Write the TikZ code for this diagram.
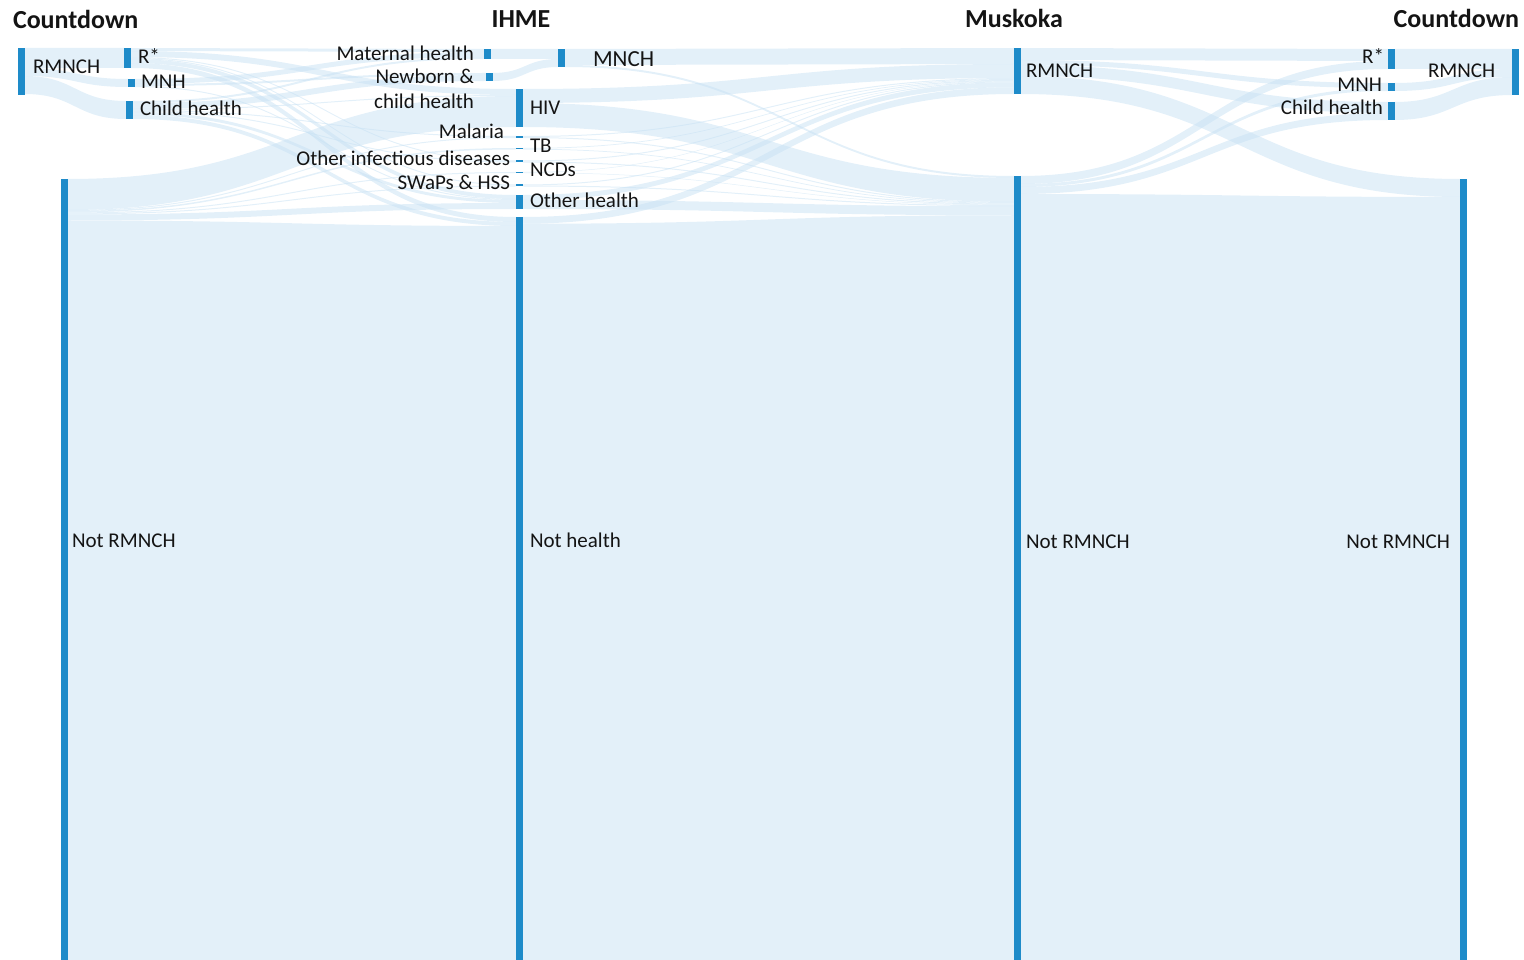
\documentclass[tikz,border=0pt]{standalone}
\usepackage{fontspec}
\setmainfont{Carlito}
\usetikzlibrary{calc}
\definecolor{barc}{RGB}{30,139,201}
\definecolor{bandc}{RGB}{199,225,243}
\definecolor{txt}{RGB}{20,20,20}
\pgfdeclarelayer{bg}
\pgfsetlayers{bg,main}
\newcommand\flow[5]{%
  \path[band] let \p1=(#1.north east), \p2=(#3.north west), \p3=($(\p1)!.5!(\p2)$) in
   (\x1,\y1-#2pt) .. controls (\x3,\y1-#2pt) and (\x3,\y2-#4pt) .. (\x2,\y2-#4pt)
   -- (\x2,\y2-#4pt-#5pt) .. controls (\x3,\y2-#4pt-#5pt) and (\x3,\y1-#2pt-#5pt) .. (\x1,\y1-#2pt-#5pt) -- cycle;}
\begin{document}
\begin{tikzpicture}[x=1pt,y=-1pt,
  bar/.style={fill=barc,draw=none,inner sep=0pt,outer sep=0pt,anchor=north west,minimum width=6.5pt},
  band/.style={fill=bandc,fill opacity=0.5,draw=none},
  lab/.style={inner sep=0pt,outer sep=0pt,font=\fontsize{21}{21}\selectfont,text=txt},
  biglab/.style={inner sep=0pt,outer sep=0pt,font=\fontsize{23}{23}\selectfont,text=txt},
  ttl/.style={inner sep=0pt,outer sep=0pt,font=\fontsize{26}{26}\selectfont\bfseries,text=txt}]
\useasboundingbox (0,0) rectangle (1524,960);
\clip (0,0) rectangle (1524,960);
% bars
\node[bar,minimum height=47pt] (cdR) at (18,48) {};
\node[bar,minimum height=800pt] (cdN) at (61,179) {};
\node[bar,minimum height=20pt] (bR) at (124,48) {};
\node[bar,minimum height=8pt] (bM) at (128,79) {};
\node[bar,minimum height=18pt] (bC) at (126,101) {};
\node[bar,minimum height=10pt] (iMat) at (484,49) {};
\node[bar,minimum height=8pt] (iNew) at (486,73) {};
\node[bar,minimum height=18pt] (iMNCH) at (558,49) {};
\node[bar,minimum height=38pt] (iHIV) at (516,89) {};
\node[bar,minimum height=2pt] (iMal) at (516,136) {};
\node[bar,minimum height=1.5pt] (iTB) at (516,148) {};
\node[bar,minimum height=2pt] (iOID) at (516,160.5) {};
\node[bar,minimum height=1pt] (iNCD) at (516,172) {};
\node[bar,minimum height=2pt] (iSW) at (516,184.5) {};
\node[bar,minimum height=14pt] (iOth) at (516,195) {};
\node[bar,minimum height=800pt] (iNot) at (516,217) {};
\node[bar,minimum height=46pt] (mR) at (1014,48) {};
\node[bar,minimum height=800pt] (mN) at (1014,176) {};
\node[bar,minimum height=20pt] (fR) at (1388,49) {};
\node[bar,minimum height=8pt] (fM) at (1388,83) {};
\node[bar,minimum height=18pt] (fC) at (1388,102) {};
\node[bar,minimum height=46pt] (gR) at (1512,49) {};
\node[bar,minimum height=800pt] (gN) at (1460,179) {};
\begin{pgfonlayer}{bg}
% Countdown RMNCH -> subcategories
\flow{cdR}{0}{bR}{0}{20}
\flow{cdR}{20}{bM}{0}{8}
\flow{cdR}{28}{bC}{0}{18}
% subcategories -> IHME
\flow{bR}{0}{iMat}{0}{3}
\flow{bR}{3}{iHIV}{0}{6}
\flow{bR}{9}{iOID}{0}{1}
\flow{bR}{10}{iSW}{0}{1}
\flow{bR}{11}{iOth}{0}{4}
\flow{bR}{15}{iNot}{0}{5}
\flow{bM}{0}{iMat}{3}{5}
\flow{bM}{5}{iNew}{0}{2}
\flow{bM}{7}{iOth}{4}{1}
\flow{bC}{0}{iMat}{8}{2}
\flow{bC}{2}{iNew}{2}{6}
\flow{bC}{8}{iHIV}{6}{1}
\flow{bC}{9}{iMal}{0}{1}
\flow{bC}{10}{iOID}{1}{1}
\flow{bC}{11}{iOth}{5}{3}
\flow{bC}{14}{iNot}{5}{4}
\flow{cdN}{0}{iHIV}{7}{31}
\flow{cdN}{31}{iMal}{1}{1}
\flow{cdN}{32}{iTB}{0}{1.5}
\flow{cdN}{33.5}{iNCD}{0}{1}
\flow{cdN}{34.5}{iSW}{1}{1}
\flow{cdN}{35.5}{iOth}{8}{6}
\flow{cdN}{41.5}{iNot}{9}{800}
% IHME sub -> MNCH
\flow{iMat}{0}{iMNCH}{0}{10}
\flow{iNew}{0}{iMNCH}{10}{8}
% IHME -> Muskoka
\flow{iMNCH}{0}{mR}{0}{16}
\flow{iMNCH}{16}{mN}{0}{2}
\flow{iHIV}{0}{mR}{16}{14}
\flow{iHIV}{14}{mN}{2}{24}
\flow{iMal}{0}{mR}{30}{1}
\flow{iMal}{1}{mN}{26}{1}
\flow{iTB}{0}{mR}{31}{0.75}
\flow{iTB}{0.75}{mN}{27}{0.75}
\flow{iOID}{0}{mR}{31.75}{1}
\flow{iOID}{1}{mN}{27.75}{1}
\flow{iNCD}{0}{mR}{32.75}{0.5}
\flow{iNCD}{0.5}{mN}{28.75}{0.5}
\flow{iSW}{0}{mR}{33.25}{1}
\flow{iSW}{1}{mN}{29.25}{1}
\flow{iOth}{0}{mR}{34.25}{5}
\flow{iOth}{5}{mN}{30.25}{9}
\flow{iNot}{0}{mR}{39.25}{6.75}
\flow{iNot}{6.75}{mN}{39.25}{800}
% Muskoka -> Countdown
\flow{mR}{0}{fR}{0}{12}
\flow{mR}{12}{fM}{0}{5}
\flow{mR}{17}{fC}{0}{11}
\flow{mR}{28}{gN}{0}{18}
\flow{mN}{0}{fR}{12}{8}
\flow{mN}{8}{fM}{5}{3}
\flow{mN}{11}{fC}{11}{7}
\flow{mN}{18}{gN}{18}{800}
\flow{fR}{0}{gR}{0}{20}
\flow{fM}{0}{gR}{20}{8}
\flow{fC}{0}{gR}{28}{18}
\end{pgfonlayer}
% titles
\node[ttl,anchor=base west] (t1) at (13,29) {Countdown};
\node[ttl,anchor=base] (t2) at (521,28) {IHME};
\node[ttl,anchor=base] (t3) at (1014,28) {Muskoka};
\node[ttl,anchor=base east] (t4) at (1519,28) {Countdown};
% labels
\node[lab,anchor=base west] (l1) at (33,74) {RMNCH};
\node[lab,anchor=base west] (l2) at (72,547) {Not RMNCH};
\node[lab,anchor=base west] (l3) at (138,64) {R*};
\node[lab,anchor=base west] (l4) at (141,89) {MNH};
\node[lab,anchor=base west] (l5) at (140,116) {Child health};
\node[lab,anchor=base east] (l6) at (474,61) {Maternal health};
\node[lab,anchor=base east] (l7) at (474,84) {Newborn \&};
\node[lab,anchor=base east] (l8) at (474,109) {child health};
\node[biglab,anchor=base west] (l9) at (593,67) {MNCH};
\node[lab,anchor=base west] (l10) at (530,115) {HIV};
\node[lab,anchor=base east] (l11) at (504,139) {Malaria};
\node[lab,anchor=base west] (l12) at (530,153) {TB};
\node[lab,anchor=base east] (l13) at (510,166) {Other infectious diseases};
\node[lab,anchor=base west] (l14) at (530,177) {NCDs};
\node[lab,anchor=base east] (l15) at (510,190) {SWaPs \& HSS};
\node[lab,anchor=base west] (l16) at (530,208) {Other health};
\node[lab,anchor=base west] (l17) at (530,547) {Not health};
\node[lab,anchor=base west] (l18) at (1026,78) {RMNCH};
\node[lab,anchor=base west] (l19) at (1026,548) {Not RMNCH};
\node[lab,anchor=base east] (l20) at (1384,64) {R*};
\node[lab,anchor=base east] (l21) at (1382,92) {MNH};
\node[lab,anchor=base east] (l22) at (1383,115) {Child health};
\node[lab,anchor=base west] (l23) at (1428,78) {RMNCH};
\node[lab,anchor=base east] (l24) at (1450,548) {Not RMNCH};
\end{tikzpicture}
\end{document}
